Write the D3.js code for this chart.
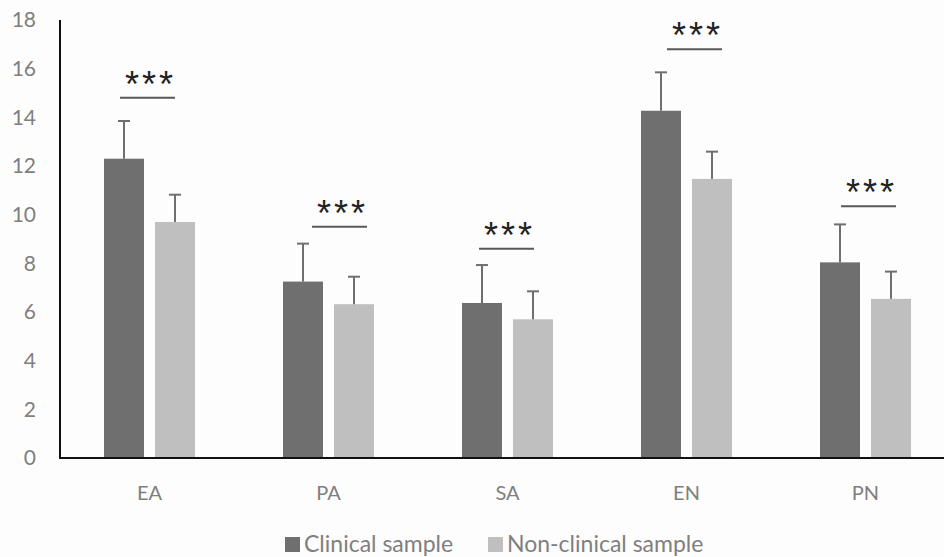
<!DOCTYPE html>
<html>
<head>
<meta charset="utf-8">
<script src="https://cdn.jsdelivr.net/npm/d3@7"></script>
<style>
  body { margin: 0; background: #fdfdfd; }
  svg { display: block; }
  .tick-label { font-family: Lato, "Open Sans", sans-serif; fill: #7f7f7f; }
</style>
</head>
<body>
<div id="chart"></div>
<script>
// data
const categories = ['EA', 'PA', 'SA', 'EN', 'PN'];
const seriesNames = ['Clinical sample', 'Non-clinical sample'];
const clinicalMean = [12.3, 7.25, 6.37, 14.27, 8.04];
const clinicalSD = [1.55, 1.56, 1.56, 1.58, 1.56];
const nonClinicalMean = [9.7, 6.32, 5.7, 11.47, 6.54];
const nonClinicalSD = [1.12, 1.13, 1.15, 1.12, 1.12];
const sigLabels = ['***', '***', '***', '***', '***'];
const sigLevel = [14.8, 9.5, 8.6, 16.8, 10.35];
const sigShift = [-2, 11, -1, 8, 3]; // bracket offset from group centre, px
const yTicks = [0, 2, 4, 6, 8, 10, 12, 14, 16, 18];

const width = 944, height = 557;
const colors = ['#6f6f6f', '#bfbfbf'];

const svg = d3.select('#chart').append('svg')
    .attr('width', width)
    .attr('height', height);

const x0 = d3.scaleBand()
    .domain(categories)
    .range([60, 955]);

const x1 = d3.scaleBand()
    .domain(seriesNames)
    .range([44, 135])
    .paddingInner(0.216);

const y = d3.scaleLinear()
    .domain([0, 18])
    .range([458, 20]);

const rows = categories.map((c, i) => ({
    cat: c,
    bars: [
        { s: seriesNames[0], mean: clinicalMean[i], sd: clinicalSD[i] },
        { s: seriesNames[1], mean: nonClinicalMean[i], sd: nonClinicalSD[i] }
    ]
}));

// y tick labels (no tick marks in the original)
const yAxis = svg.append('g')
    .attr('transform', 'translate(60,0)')
    .call(d3.axisLeft(y).tickValues(yTicks).tickSize(0).tickPadding(24));
yAxis.select('.domain').remove();
yAxis.selectAll('text')
    .attr('class', 'tick-label')
    .attr('font-size', 21)
    .attr('fill', '#7f7f7f');

const groups = svg.append('g').selectAll('g')
    .data(rows)
    .join('g')
    .attr('transform', d => `translate(${x0(d.cat)},0)`);

groups.selectAll('rect')
    .data(d => d.bars)
    .join('rect')
    .attr('x', d => x1(d.s))
    .attr('y', d => y(d.mean))
    .attr('width', x1.bandwidth())
    .attr('height', d => y(0) - y(d.mean))
    .attr('fill', (d, i) => colors[i]);

// error bars (upper side only)
const err = groups.selectAll('g.err')
    .data(d => d.bars)
    .join('g')
    .attr('class', 'err')
    .attr('stroke', '#6f6f6f')
    .attr('stroke-width', 2);

err.append('line')
    .attr('x1', d => x1(d.s) + x1.bandwidth() / 2)
    .attr('x2', d => x1(d.s) + x1.bandwidth() / 2)
    .attr('y1', d => y(d.mean))
    .attr('y2', d => y(d.mean + d.sd));

err.append('line')
    .attr('x1', d => x1(d.s) + x1.bandwidth() / 2 - 6)
    .attr('x2', d => x1(d.s) + x1.bandwidth() / 2 + 6)
    .attr('y1', d => y(d.mean + d.sd))
    .attr('y2', d => y(d.mean + d.sd));

// significance markers
groups.append('line')
    .attr('x1', (d, i) => x0.bandwidth() / 2 + sigShift[i] - 27.5)
    .attr('x2', (d, i) => x0.bandwidth() / 2 + sigShift[i] + 27.5)
    .attr('y1', (d, i) => y(sigLevel[i]))
    .attr('y2', (d, i) => y(sigLevel[i]))
    .attr('stroke', '#595959')
    .attr('stroke-width', 2);

groups.append('text')
    .attr('x', (d, i) => x0.bandwidth() / 2 + sigShift[i] + 3)
    .attr('y', (d, i) => y(sigLevel[i]) - 1)
    .attr('text-anchor', 'middle')
    .attr('font-family', '"Liberation Sans", Arial, sans-serif')
    .attr('font-size', 36)
    .attr('letter-spacing', 3)
    .attr('fill', '#222')
    .text((d, i) => sigLabels[i]);

// axes lines
svg.append('line')
    .attr('x1', 60).attr('x2', 60)
    .attr('y1', y(18)).attr('y2', y(0))
    .attr('stroke', '#111').attr('stroke-width', 2);
svg.append('line')
    .attr('x1', 59).attr('x2', width)
    .attr('y1', y(0)).attr('y2', y(0))
    .attr('stroke', '#111').attr('stroke-width', 2);

// category labels
svg.append('g').selectAll('text')
    .data(categories)
    .join('text')
    .attr('class', 'tick-label')
    .attr('x', d => x0(d) + x0.bandwidth() / 2)
    .attr('y', 500)
    .attr('text-anchor', 'middle')
    .attr('font-size', 20)
    .attr('fill', '#6b6b6b')
    .text(d => d);

// legend
const legendX = [285, 488];
const legend = svg.append('g').selectAll('g')
    .data(seriesNames)
    .join('g')
    .attr('transform', (d, i) => `translate(${legendX[i]},537)`);
legend.append('rect')
    .attr('width', 15).attr('height', 15)
    .attr('fill', (d, i) => colors[i]);
legend.append('text')
    .attr('class', 'tick-label')
    .attr('x', 19)
    .attr('y', 15)
    .attr('font-size', 23)
    .attr('fill', '#6b6b6b')
    .text(d => d);
</script>
</body>
</html>
